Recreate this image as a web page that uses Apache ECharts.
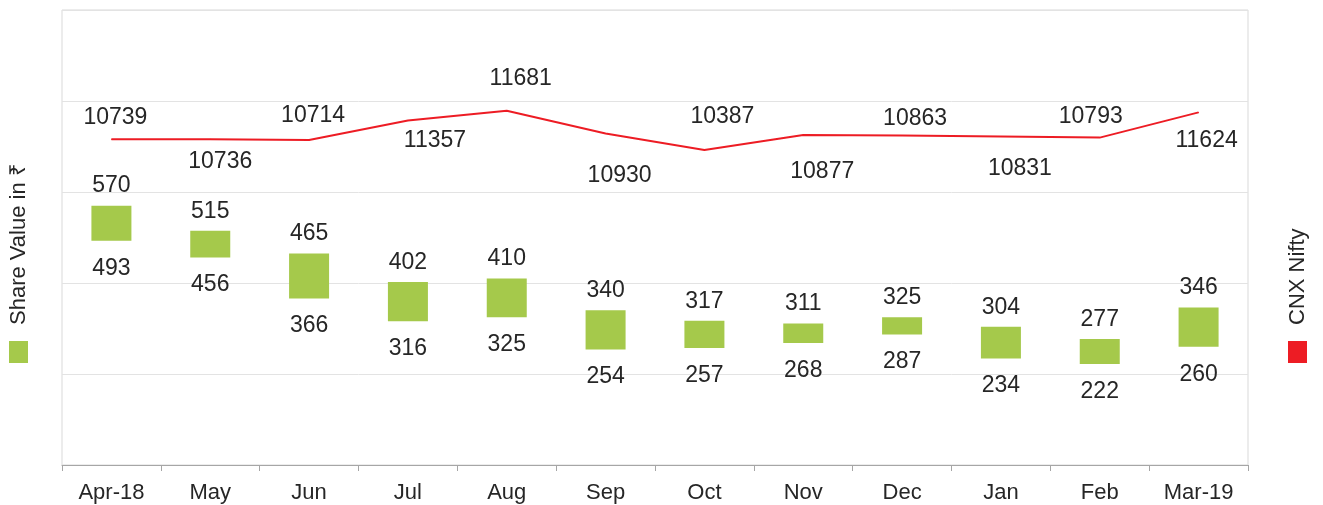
<!DOCTYPE html>
<html lang="en">
<head>
<meta charset="UTF-8">
<title>Share Value vs CNX Nifty</title>
<script src="https://cdn.jsdelivr.net/npm/echarts@6/dist/echarts.min.js"></script>
<style>
html, body { margin: 0; padding: 0; background: #fff; }
#chart { width: 1323px; height: 505px; }
</style>
</head>
<body>
<div id="chart"></div>
<script>
// data
const months = ['Apr-18', 'May', 'Jun', 'Jul', 'Aug', 'Sep', 'Oct', 'Nov', 'Dec', 'Jan', 'Feb', 'Mar-19'];
const shareHigh = [570, 515, 465, 402, 410, 340, 317, 311, 325, 304, 277, 346];
const shareLow = [493, 456, 366, 316, 325, 254, 257, 268, 287, 234, 222, 260];
const nifty = [10739, 10736, 10714, 11357, 11681, 10930, 10387, 10877, 10863, 10831, 10793, 11624];

// label nudges for the nifty line (px from the point), as placed in the original
const niftyLabelShift = [[4, -22], [10, 22], [4, -24], [27, 20], [14, -32], [14, 42],
  [18, -33], [19, 37], [13, -17], [19, 32], [-9, -21], [8, 28]];

const green = '#a5c94b';
const red = '#ed1c24';
const textColor = '#262626';
const font = '"Liberation Sans", Arial, sans-serif';

const chart = echarts.init(document.getElementById('chart'));

const option = {
  animation: false,
  textStyle: { fontFamily: font },
  grid: {
    left: 62, right: 75, top: 10, bottom: 40,
    show: true, borderColor: '#d9d9d9', borderWidth: 1
  },
  xAxis: {
    type: 'category',
    data: months,
    boundaryGap: true,
    axisLine: { lineStyle: { color: '#a6a6a6' } },
    axisTick: { show: true, length: 6, lineStyle: { color: '#a6a6a6' } },
    axisLabel: { color: textColor, fontSize: 22, margin: 17, fontFamily: font }
  },
  yAxis: [{
    type: 'value',
    min: 0, max: 1000, interval: 200,
    axisLabel: { show: false },
    axisLine: { show: false },
    axisTick: { show: false },
    splitLine: { lineStyle: { color: '#e3e3e3' } }
  }, {
    type: 'value',
    min: 0, max: 15000, interval: 3000,
    axisLabel: { show: false },
    axisLine: { show: false },
    axisTick: { show: false },
    splitLine: { show: false }
  }],
  series: [{
    name: 'base',
    type: 'bar',
    stack: 'share',
    barWidth: 40,
    data: shareLow,
    itemStyle: { color: 'transparent' },
    label: {
      show: true,
      position: 'insideTop',
      distance: 16,
      fontSize: 23,
      color: textColor,
      fontFamily: font
    },
    silent: true
  }, {
    name: 'Share Value in ₹',
    type: 'bar',
    stack: 'share',
    barWidth: 40,
    data: shareHigh.map((h, i) => h - shareLow[i]),
    itemStyle: { color: green },
    label: {
      show: true,
      position: 'top',
      distance: 8,
      fontSize: 23,
      color: textColor,
      fontFamily: font,
      formatter: p => shareHigh[p.dataIndex]
    }
  }, {
    name: 'CNX Nifty',
    type: 'line',
    yAxisIndex: 1,
    data: nifty.map((v, i) => ({
      value: v,
      label: { offset: niftyLabelShift[i] }
    })),
    symbol: 'circle',
    symbolSize: 1,
    itemStyle: { color: red },
    lineStyle: { color: red, width: 2 },
    label: {
      show: true,
      position: 'inside',
      fontSize: 23,
      color: textColor,
      fontFamily: font
    },
    z: 5
  }],
  graphic: [{
    type: 'text',
    x: 19, y: 325,
    rotation: Math.PI / 2,
    style: {
      text: 'Share Value in ₹',
      fontSize: 22,
      fontFamily: font,
      fill: textColor,
      align: 'left',
      verticalAlign: 'middle'
    }
  }, {
    type: 'rect',
    x: 9, y: 341,
    shape: { width: 19, height: 22 },
    style: { fill: green }
  }, {
    type: 'text',
    x: 1298, y: 325,
    rotation: Math.PI / 2,
    style: {
      text: 'CNX Nifty',
      fontSize: 22,
      fontFamily: font,
      fill: textColor,
      align: 'left',
      verticalAlign: 'middle'
    }
  }, {
    type: 'rect',
    x: 1288, y: 341,
    shape: { width: 19, height: 22 },
    style: { fill: red }
  }]
};

chart.setOption(option);
</script>
</body>
</html>
